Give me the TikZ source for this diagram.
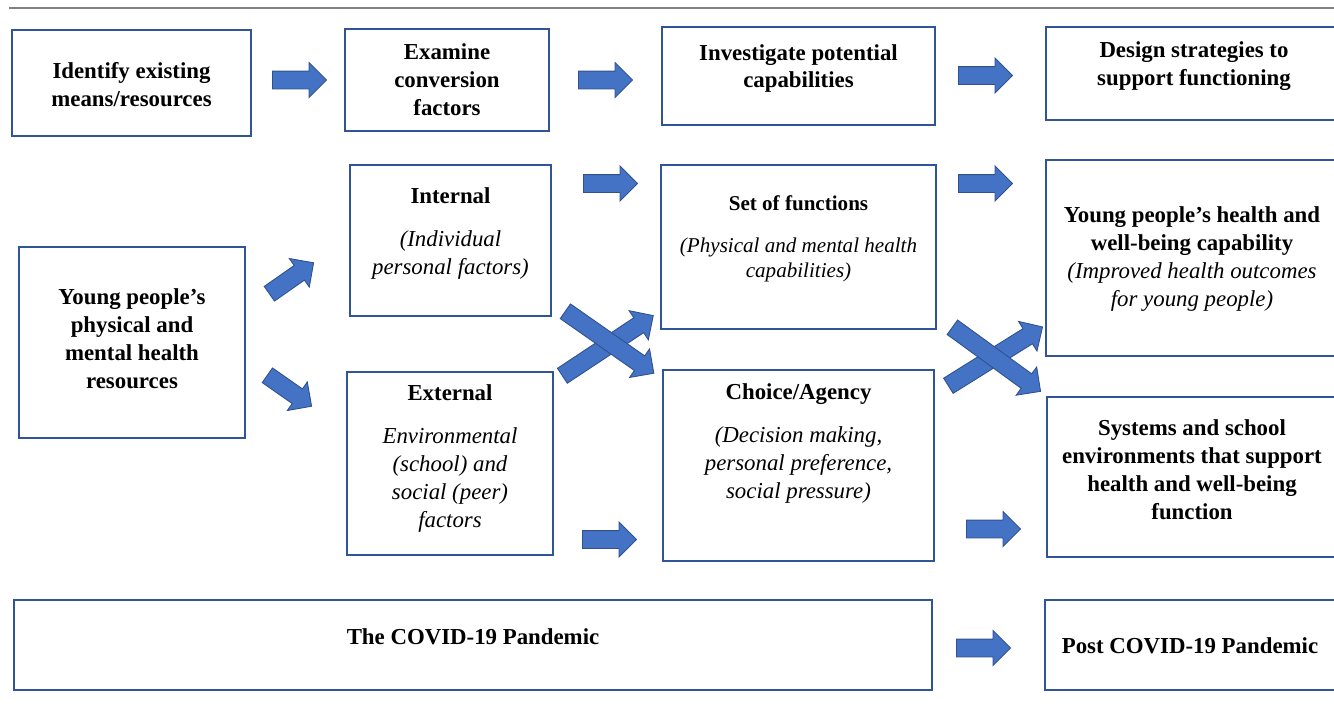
\documentclass[tikz,border=0pt]{standalone}
\usepackage{fontspec}
\setmainfont{Liberation Serif}
\usetikzlibrary{shapes.arrows}

\definecolor{boxblue}{RGB}{47,85,151}
\definecolor{arrfill}{RGB}{68,114,196}
\definecolor{arrline}{RGB}{47,82,143}

\begin{document}
\begin{tikzpicture}[
    x=0.02cm, y=-0.02cm,
    box/.style 2 args={draw=boxblue, line width=1.1pt, minimum width=#1*0.02cm, minimum height=#2*0.02cm, inner sep=0pt},
    txt/.style={align=center, font=\fontsize{13}{15.9}\selectfont},
    arr/.style={single arrow, draw=arrline, fill=arrfill, line width=0.5pt, minimum height=54*0.02cm,
        minimum width=34*0.02cm, single arrow head extend=8.5*0.02cm, inner xsep=0pt, inner ysep=8.5*0.02cm,
        anchor=tail, rotate=#1},
    arr/.default=0,
    long/.style={minimum height=#1*0.02cm}
]
    \useasboundingbox (0,0) rectangle (1334,714);
    \clip (0,0) rectangle (1334,714);
    \draw[gray, line width=1.1pt] (9,8) -- (1334,8);

    % boxes
    \node[box={239}{106}] (ident) at (131.5,83) {};
    \node[box={204}{102}] (examine) at (447,80) {};
    \node[box={273}{98}] (invest) at (798.5,76) {};
    \node[box={296}{93}] (design) at (1194,73.5) {};
    \node[box={201}{151}] (internal) at (450.5,240.5) {};
    \node[box={275}{164}] (setfun) at (798.5,247) {};
    \node[box={296}{196}] (health) at (1194,258) {};
    \node[box={226}{191}] (resources) at (132,342.5) {};
    \node[box={206}{183}] (external) at (450,463.5) {};
    \node[box={271}{191}] (choice) at (798.5,465.5) {};
    \node[box={295}{160}] (systems) at (1194.5,477) {};
    \node[box={918}{90}] (covid) at (473,645) {};
    \node[box={297}{90}] (post) at (1193.5,645) {};

    % texts
    \node[txt] (ident-t) at (131.5,84.5) {\textbf{Identify existing}\\\textbf{means/resources}};
    \node[txt] (examine-t) at (447,79.5) {\textbf{Examine}\\\textbf{conversion}\\\textbf{factors}};
    \node[txt] (invest-t) at (798.5,68.5) {\textbf{Investigate potential}\\\textbf{capabilities}};
    \node[txt] (design-t) at (1194,66) {\textbf{Design strategies to}\\\textbf{support functioning}};
    \node[txt] (internal-t) at (450.5,233.5) {\textbf{Internal}\\[9pt]\textit{(Individual}\\\textit{personal factors)}};
    \node[txt, font=\fontsize{12}{14.7}\selectfont] (setfun-t) at (798.5,239)
        {\textbf{Set of functions}\\[9pt]\textit{(Physical and mental health}\\\textit{capabilities)}};
    \node[txt] (health-t) at (1192,259) {\textbf{Young people’s health and}\\\textbf{well-being capability}\\
        \textit{(Improved health outcomes}\\\textit{for young people)}};
    \node[txt] (resources-t) at (132,339) {\textbf{Young people’s}\\\textbf{physical and}\\\textbf{mental health}\\\textbf{resources}};
    \node[txt] (external-t) at (450,458.5) {\textbf{External}\\[9pt]\textit{Environmental}\\\textit{(school) and}\\
        \textit{social (peer)}\\\textit{factors}};
    \node[txt] (choice-t) at (798.5,443.5) {\textbf{Choice/Agency}\\[9pt]\textit{(Decision making,}\\
        \textit{personal preference,}\\\textit{social pressure)}};
    \node[txt] (systems-t) at (1192,469.5) {\textbf{Systems and school}\\\textbf{environments that support}\\
        \textbf{health and well-being}\\\textbf{function}};
    \node[txt] (covid-t) at (473,637) {\textbf{The COVID-19 Pandemic}};
    \node[txt] (post-t) at (1190,646) {\textbf{Post COVID-19 Pandemic}};

    % block arrows, placed by their tails
    \node[arr] (a1) at (272,80) {};
    \node[arr] (a2) at (578,80) {};
    \node[arr] (a3) at (958,75.5) {};
    \node[arr] (a4) at (583,183.5) {};
    \node[arr] (a5) at (958,183.5) {};
    \node[arr=35] (a6) at (269,294) {};
    \node[arr=-35] (a7) at (267,375) {};
    \node[arr=33.5, long=109] (x1up) at (562,376) {};
    \node[arr=-35, long=108] (x1down) at (565,311) {};
    \node[arr=32, long=111] (x2up) at (948,386) {};
    \node[arr=-36, long=109] (x2down) at (952,327) {};
    \node[arr] (a8) at (582,539.5) {};
    \node[arr] (a9) at (966,529) {};
    \node[arr] (a10) at (956,648) {};
\end{tikzpicture}
\end{document}
